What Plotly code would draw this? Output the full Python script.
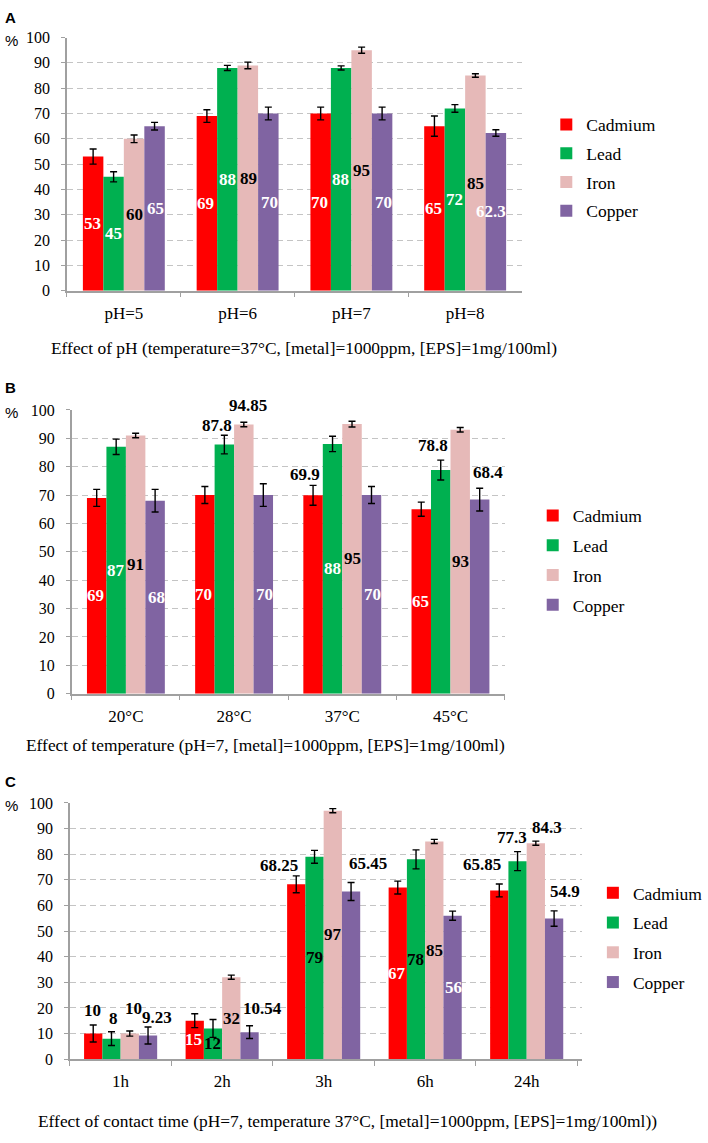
import plotly.graph_objects as go

W, H = 708, 1143

metals = ["Cadmium", "Lead", "Iron", "Copper"]
colors = ["#FF0000", "#00B050", "#E6B9B8", "#8064A2"]

# Panel A: effect of pH
cats_a = ["pH=5", "pH=6", "pH=7", "pH=8"]
cad_a = [53, 69, 70, 65]
lead_a = [45, 88, 88, 72]
iron_a = [60, 89, 95, 85]
cop_a = [65, 70, 70, 62.3]
cad_a_err = [3, 2.5, 2.5, 4]
lead_a_err = [2, 1, 0.8, 1.5]
iron_a_err = [1.5, 1.3, 1.2, 0.7]
cop_a_err = [1.5, 2.5, 2.5, 1.3]

# Panel B: effect of temperature
cats_b = ["20°C", "28°C", "37°C", "45°C"]
cad_b = [69, 70, 69.9, 65]
lead_b = [87, 87.8, 88, 78.8]
iron_b = [91, 94.85, 95, 93]
cop_b = [68, 70, 70, 68.4]
cad_b_err = [3, 3, 3.5, 2.5]
lead_b_err = [2.7, 3.3, 2.7, 3.5]
iron_b_err = [0.8, 0.8, 1, 0.8]
cop_b_err = [4, 4, 3, 4]

# Panel C: effect of contact time
cats_c = ["1h", "2h", "3h", "6h", "24h"]
cad_c = [10, 15, 68.25, 67, 65.85]
lead_c = [8, 12, 79, 78, 77.3]
iron_c = [10, 32, 97, 85, 84.3]
cop_c = [9.23, 10.54, 65.45, 56, 54.9]
cad_c_err = [3.3, 2.7, 3.3, 2.5, 2.5]
lead_c_err = [2.7, 3.5, 2.5, 3.7, 3.7]
iron_c_err = [1, 0.8, 0.8, 0.8, 0.8]
cop_c_err = [3.3, 2.5, 3.5, 1.8, 3]

titles = [
    "Effect of pH (temperature=37°C, [metal]=1000ppm, [EPS]=1mg/100ml)",
    "Effect of temperature (pH=7, [metal]=1000ppm, [EPS]=1mg/100ml)",
    "Effect of contact time (pH=7, temperature 37°C, [metal]=1000ppm, [EPS]=1mg/100ml))",
]
letters = ["A", "B", "C"]

# ---- style configuration ----
# label styles: w = white inside, k = black inside, o = black above error bar
label_modes = [
    [list("wwww"), list("wwww"), list("kkkk"), list("wwww")],
    [list("wwow"), list("wowo"), list("kokk"), list("wwwo")],
    [list("owowo"), list("okkko"), list("okkko"), list("ooowo")],
]
# nudges (dx px, gap px above error bar) for labels placed above bars
label_nudge = {
    (1, 1, 1): (-7, 4), (1, 2, 1): (4, 11), (1, 0, 2): (-7, 5),
    (1, 1, 3): (-7, 9), (1, 3, 3): (7, 10),
    (2, 0, 0): (0, 9), (2, 1, 0): (2, 7), (2, 2, 0): (3, 16), (2, 3, 0): (8, 4),
    (2, 3, 1): (12, 11), (2, 0, 2): (-16, 4), (2, 3, 2): (16, 13),
    (2, 0, 4): (-16, 14), (2, 1, 4): (-5, 8), (2, 2, 4): (11, 8), (2, 3, 4): (10, 13),
}
# horizontal nudges (px) for labels inside bars
inside_nudge = {(0, 3, 3): -6}

panels = [
    (cats_a, [cad_a, lead_a, iron_a, cop_a], [cad_a_err, lead_a_err, iron_a_err, cop_a_err]),
    (cats_b, [cad_b, lead_b, iron_b, cop_b], [cad_b_err, lead_b_err, iron_b_err, cop_b_err]),
    (cats_c, [cad_c, lead_c, iron_c, cop_c], [cad_c_err, lead_c_err, iron_c_err, cop_c_err]),
]

BARGAP = 0.28
# layout geometry in pixels: (x_left, x_right, y_top(100), y_bottom(0))
geom = [(69, 538, 30, 287), (74, 520, 408, 696), (72, 600, 807, 1067)]
legend_pos = [(563, 100), (549, 497), (611, 880)]
legend_gap = [3, 4, 4]
title_pos = [(313, 345), (274, 748), (358, 1130)]
letter_pos = [(3, 10), (3, 385), (3, 785)]

SERIF = "Liberation Serif"
SANS = "Liberation Sans"

fig = go.Figure()
annotations = []


def fmt(v):
    return f"{v:g}"


for p, (cats, series, errs) in enumerate(panels):
    xa = "x" if p == 0 else f"x{p+1}"
    ya = "y" if p == 0 else f"y{p+1}"
    lg = "legend" if p == 0 else f"legend{p+1}"
    xl, xr, yt, yb = geom[p]
    bar_px = (xr - xl) / len(cats) * (1 - BARGAP) / len(metals)
    for s, (name, col) in enumerate(zip(metals, colors)):
        vals = series[s]
        er = errs[s]
        modes = label_modes[p][s]
        fig.add_trace(go.Bar(
            x=cats, y=vals, name=name, marker=dict(color=col, line=dict(width=0)),
            error_y=dict(type="data", array=er, visible=True, color="black",
                         thickness=1.4, width=3.5),
            xaxis=xa, yaxis=ya, legend=lg, legendgroup=f"{p}-{name}",
            hoverinfo="skip",
        ))
        for i, (v, m) in enumerate(zip(vals, modes)):
            base_dx = (s - (len(metals) - 1) / 2) * bar_px
            if m == "o":
                dx, gap = label_nudge.get((p, s, i), (0, 3))
                annotations.append(dict(
                    x=cats[i], y=v + er[i], xref=xa, yref=ya,
                    text=f"<b>{fmt(v)}</b>", showarrow=False,
                    yanchor="middle", xanchor="center",
                    yshift=gap + 6, xshift=base_dx + dx,
                    font=dict(family=SERIF, size=17, color="black"),
                ))
            else:
                annotations.append(dict(
                    x=cats[i], y=v / 2, xref=xa, yref=ya,
                    text=f"<b>{fmt(v)}</b>", showarrow=False,
                    yanchor="middle", xanchor="center",
                    xshift=base_dx + inside_nudge.get((p, s, i), 0),
                    font=dict(family=SERIF, size=17,
                              color="white" if m == "w" else "black"),
                ))

layout_axes = {}
for p, (xl, xr, yt, yb) in enumerate(geom):
    xk = "xaxis" if p == 0 else f"xaxis{p+1}"
    yk = "yaxis" if p == 0 else f"yaxis{p+1}"
    ya = "y" if p == 0 else f"y{p+1}"
    xa = "x" if p == 0 else f"x{p+1}"
    layout_axes[xk] = dict(
        domain=[xl / W, xr / W], anchor=ya, type="category",
        showline=True, linecolor="#a0a0a0", linewidth=1.5,
        ticks="outside", tickson="boundaries", ticklen=5, tickcolor="#a0a0a0",
        tickfont=dict(family=SERIF, size=17, color="black"),
        ticklabelstandoff=6, showgrid=False, fixedrange=True,
    )
    layout_axes[yk] = dict(
        domain=[1 - yb / H, 1 - yt / H], anchor=xa, range=[0, 100],
        dtick=10, showline=True, linecolor="#a0a0a0", linewidth=1.5,
        ticks="outside", ticklen=4, tickcolor="#a0a0a0",
        tickfont=dict(family=SERIF, size=16, color="black"),
        ticklabelstandoff=8,
        showgrid=True, gridcolor="#c4c4c4", griddash="6px,4px", gridwidth=1,
        zeroline=False, fixedrange=True,
    )
    lk = "legend" if p == 0 else f"legend{p+1}"
    lx, ly = legend_pos[p]
    layout_axes[lk] = dict(
        x=lx / W, y=1 - ly / H, xanchor="left", yanchor="top",
        font=dict(family=SERIF, size=17.5, color="black"),
        tracegroupgap=legend_gap[p], itemwidth=30, bgcolor="rgba(0,0,0,0)",
    )
    tx, ty = title_pos[p]
    annotations.append(dict(
        x=tx / W, y=1 - ty / H, xref="paper", yref="paper", text=titles[p],
        showarrow=False, xanchor="center", yanchor="middle",
        font=dict(family=SERIF, size=17.4, color="black"),
    ))
    lx2, ly2 = letter_pos[p]
    annotations.append(dict(
        x=lx2 / W, y=1 - ly2 / H, xref="paper", yref="paper",
        text="<b>" + letters[p] + "</b>", showarrow=False,
        xanchor="left", yanchor="middle",
        font=dict(family=SANS, size=15, color="black"),
    ))
    annotations.append(dict(
        x=3 / W, y=1 - (yt + 3) / H, xref="paper", yref="paper", text="%",
        showarrow=False, xanchor="left", yanchor="middle",
        font=dict(family=SANS, size=15, color="black"),
    ))

fig.update_layout(
    width=W, height=H, margin=dict(l=0, r=0, t=0, b=0),
    paper_bgcolor="white", plot_bgcolor="white",
    font=dict(family=SERIF, color="black"),
    barmode="group", bargap=BARGAP, bargroupgap=0,
    annotations=annotations, showlegend=True,
    **layout_axes,
)

fig.write_html("out.html", config={"displayModeBar": False})
